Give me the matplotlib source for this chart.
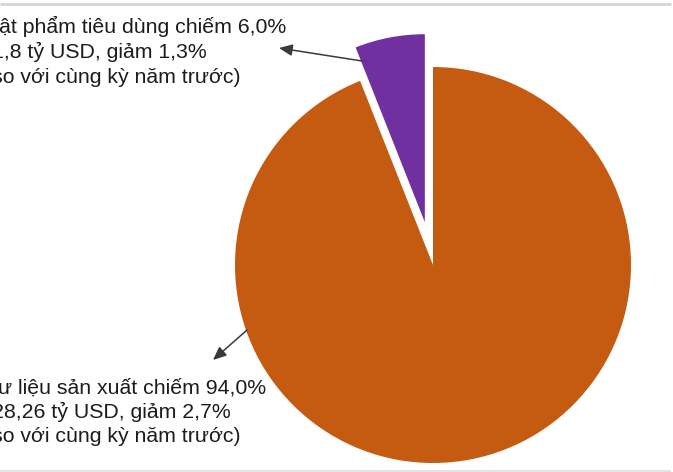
import matplotlib.pyplot as plt

plt.rcParams['font.family'] = ['Liberation Sans', 'DejaVu Sans']

# data
labels = ['Vật phẩm tiêu dùng', 'Tư liệu sản xuất']
shares = [6.0, 94.0]
colors = ['#7030A0', '#C55A11']
explode = [0.22, 0.0]   # fraction of radius

top_lines = ['Vật phẩm tiêu dùng chiếm 6,0%',
             '(1,8 tỷ USD, giảm 1,3%',
             '(so với cùng kỳ năm trước)']
bottom_lines = ['Tư liệu sản xuất chiếm 94,0%',
                '(28,26 tỷ USD, giảm 2,7%',
                '(so với cùng kỳ năm trước)']

W, H = 673, 472
R = 198
fig = plt.figure(figsize=(W / 100, H / 100), dpi=100)
ax = fig.add_axes([0, 0, 1, 1])


def py(y):
    # pixel row -> data y
    return H - y


# pie's explode is in data units here, so scale it by the radius
wedges, _ = ax.pie(shares, colors=colors, explode=[e * R for e in explode],
                   startangle=90, counterclock=True, center=(433, py(265)),
                   radius=R, wedgeprops=dict(linewidth=0), frame=True)
wedges[0].set_radius(188)
ax.set_xlim(0, W)
ax.set_ylim(0, H)
ax.set_aspect('equal')
ax.axis('off')

# frame lines
ax.plot([0, 671], [py(3.5), py(3.5)], color='#d4d4d4', lw=2, solid_capstyle='butt')
ax.plot([0, 671], [py(470.5), py(470.5)], color='#e2e2e2', lw=1.5, solid_capstyle='butt')

text_kw = dict(fontsize=15.3, color='#1c1c1c', ha='left', va='baseline')
for i, line in enumerate(top_lines):
    ax.text(-15, py(33 + 25 * i), line, **text_kw)
for i, line in enumerate(bottom_lines):
    ax.text(-15, py(393 + 24.5 * i), line, **text_kw)

arrow = dict(arrowstyle='-|>,head_length=0.8,head_width=0.35', color='#3a3a3a', lw=1.1,
             shrinkA=0, shrinkB=0)
ax.annotate('', xy=(279, py(48)), xytext=(362, py(61)), arrowprops=arrow)
ax.annotate('', xy=(213, py(360)), xytext=(247, py(330)), arrowprops=arrow)

fig.savefig('out.png', dpi=100)
